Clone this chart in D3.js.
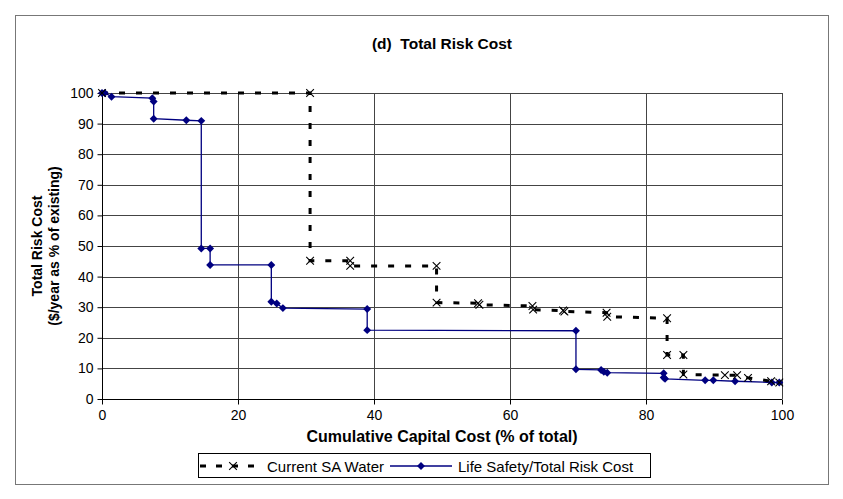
<!DOCTYPE html>
<html><head><meta charset="utf-8">
<script src="https://cdn.jsdelivr.net/npm/d3@7"></script>
<style>body{margin:0;background:#fff}svg{display:block}text{font-family:"Liberation Sans",Arial,sans-serif}</style>
</head><body><svg id="c" width="843" height="499"></svg>
<script>
const title = "(d)  Total Risk Cost";
const xTitle = "Cumulative Capital Cost (% of total)";
const yTitle1 = "Total Risk Cost";
const yTitle2 = "($/year as % of existing)";
const xTicks = [0, 20, 40, 60, 80, 100];
const yTicks = [0, 10, 20, 30, 40, 50, 60, 70, 80, 90, 100];
const seriesNames = ["Current SA Water", "Life Safety/Total Risk Cost"];
const saX = [0, 30.6, 30.6, 36.5, 36.5, 49.2, 49.2, 55.3, 55.5, 63.3, 63.4, 67.8, 68.0, 74.2, 74.3, 83.1, 83.1, 85.5, 85.5, 91.6, 93.4, 95.0, 98.4, 99.6];
const saY = [100, 100, 45.2, 45.2, 43.5, 43.5, 31.5, 31.3, 30.8, 30.4, 29.2, 28.9, 28.6, 28.2, 26.9, 26.4, 14.4, 14.4, 8.0, 7.8, 7.8, 6.9, 5.8, 5.4];
const lsX = [0, 0.4, 1.4, 7.4, 7.6, 7.6, 12.4, 14.6, 14.6, 15.9, 15.9, 24.9, 24.9, 25.7, 26.6, 39.0, 39.0, 69.7, 69.7, 73.4, 73.8, 74.3, 82.6, 82.6, 82.8, 88.7, 89.9, 93.1, 98.5, 99.6];
const lsY = [100, 100, 98.8, 98.3, 97.2, 91.6, 91.1, 90.9, 49.2, 49.2, 43.8, 43.8, 31.8, 31.2, 29.7, 29.4, 22.5, 22.3, 9.7, 9.5, 8.9, 8.6, 8.4, 7.0, 6.6, 6.1, 6.1, 5.8, 5.4, 5.4];

const svg = d3.select("#c");
svg.append("rect").attr("x",15.5).attr("y",15.5).attr("width",813).attr("height",469)
  .attr("fill","#fff").attr("stroke","#777").attr("stroke-width",1);

const x = d3.scaleLinear().domain([0,100]).range([102,782]);
const y = d3.scaleLinear().domain([0,100]).range([399,93]);

const g = svg.append("g");
g.selectAll(".hg").data(yTicks.filter(d=>d>0)).join("line")
  .attr("x1",x(0)).attr("x2",x(100)).attr("y1",d=>Math.round(y(d))+0.5).attr("y2",d=>Math.round(y(d))+0.5)
  .attr("stroke","#444").attr("stroke-width",1);
g.selectAll(".vg").data(xTicks.filter(d=>d>0)).join("line")
  .attr("y1",y(0)).attr("y2",y(100)).attr("x1",d=>Math.round(x(d))+0.5).attr("x2",d=>Math.round(x(d))+0.5)
  .attr("stroke","#444").attr("stroke-width",1);

const xAxis = svg.append("g").attr("transform",`translate(0,${Math.round(y(0))+0.5})`)
  .call(d3.axisBottom(x).tickValues(xTicks).tickSize(5).tickPadding(6));
const yAxis = svg.append("g").attr("transform",`translate(${Math.round(x(0))+0.5},0)`)
  .call(d3.axisLeft(y).tickValues(yTicks).tickSize(5).tickPadding(4));
[xAxis,yAxis].forEach(a=>{
  a.select(".domain").attr("stroke","#000").attr("stroke-width",1);
  a.selectAll(".tick line").attr("stroke","#000");
  a.selectAll("text").attr("font-size",14).attr("fill","#000").attr("font-family","Liberation Sans, Arial, sans-serif");
});
xAxis.select(".domain").attr("d",`M${x(0)},0H${x(100)}`);
yAxis.select(".domain").attr("d",`M0,${y(0)}V${y(100)}`);

const sa = saX.map((v,i)=>[v,saY[i]]);
const ls = lsX.map((v,i)=>[v,lsY[i]]);
const line = d3.line().x(d=>x(d[0])).y(d=>y(d[1]));
svg.append("path").attr("d",line(ls)).attr("fill","none").attr("stroke","#000080").attr("stroke-width",1.3);
svg.append("path").attr("d",line(sa)).attr("fill","none").attr("stroke","#000").attr("stroke-width",3).attr("stroke-dasharray","6,11");

const diamond = d3.symbol().type(d3.symbolDiamond2).size(40);
svg.append("g").selectAll("path").data(ls).join("path")
  .attr("transform",d=>`translate(${x(d[0])},${y(d[1])})`)
  .attr("d",diamond()).attr("fill","#000080");
const cross = d3.symbol().type(d3.symbolTimes).size(40);
svg.append("g").selectAll("path").data(sa).join("path")
  .attr("transform",d=>`translate(${x(d[0])},${y(d[1])})`)
  .attr("d",cross()).attr("fill","none").attr("stroke","#000").attr("stroke-width",1.1);

svg.append("text").attr("x",442).attr("y",49).attr("text-anchor","middle").style("white-space","pre")
  .attr("font-size",15.5).attr("font-weight","bold").text(title);
svg.append("text").attr("x",442).attr("y",442).attr("text-anchor","middle")
  .attr("font-size",16).attr("font-weight","bold").text(xTitle);
const yt = svg.append("text").attr("transform","translate(0,246) rotate(-90)")
  .attr("text-anchor","middle").attr("font-size",14).attr("font-weight","bold");
yt.append("tspan").attr("x",0).attr("y",42).text(yTitle1);
yt.append("tspan").attr("x",0).attr("y",59).text(yTitle2);

const lg = svg.append("g");
lg.append("rect").attr("x",198.5).attr("y",453.5).attr("width",452).attr("height",24)
  .attr("fill","#fff").attr("stroke","#000").attr("stroke-width",1);
lg.append("line").attr("x1",200).attr("x2",262).attr("y1",466).attr("y2",466)
  .attr("stroke","#000").attr("stroke-width",3).attr("stroke-dasharray","6,10");
lg.append("path").attr("transform","translate(233,466)").attr("d",cross()).attr("fill","none").attr("stroke","#000").attr("stroke-width",1.1);
lg.append("text").attr("x",267).attr("y",471.5).attr("font-size",15).text(seriesNames[0]);
lg.append("line").attr("x1",390).attr("x2",452).attr("y1",466).attr("y2",466)
  .attr("stroke","#000080").attr("stroke-width",1.3);
lg.append("path").attr("transform","translate(421,466)").attr("d",diamond()).attr("fill","#000080");
lg.append("text").attr("x",458).attr("y",471.5).attr("font-size",15).text(seriesNames[1]);
</script></body></html>
